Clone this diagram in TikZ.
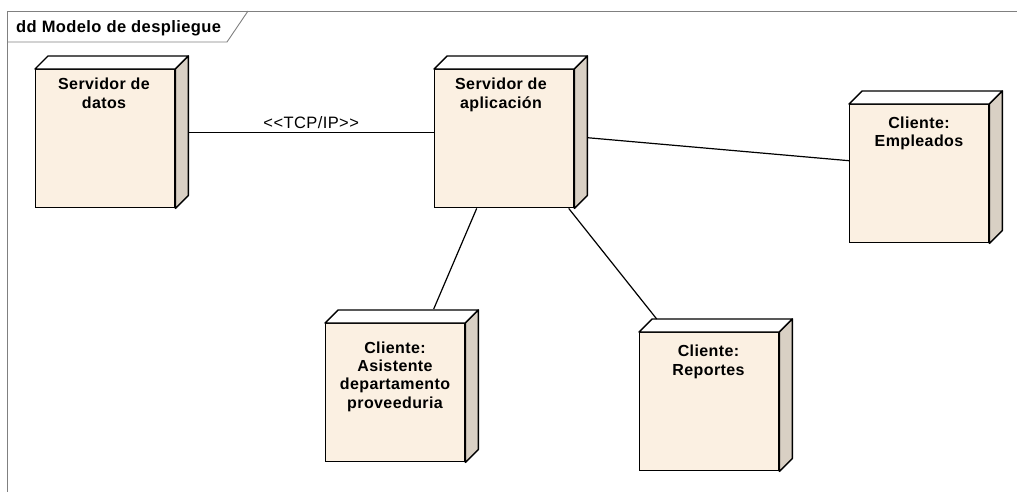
\documentclass[tikz,border=0pt]{standalone}
\usepackage{fontspec}
\setmainfont{Liberation Sans}[LetterSpace=2.5]
\usetikzlibrary{calc}

\definecolor{nodefill}{HTML}{FBF0E2}
\definecolor{nodeside}{HTML}{D9D0C4}
\definecolor{framegray}{HTML}{808080}

\tikzset{
  device/.style={draw=black, line width=1.4pt, fill=nodefill,
    minimum width=139pt, minimum height=138pt, inner sep=0pt,
    anchor=north west},
  devtext/.style={font=\bfseries\fontsize{16}{18.3}\selectfont,
    align=center, inner sep=0pt, anchor=north},
  facetop/.style={draw=black, line width=1.4pt, fill=white, line join=round},
  faceside/.style={draw=black, line width=1.4pt, fill=nodeside, line join=round},
  link/.style={draw=black, line width=1.2pt},
  frameline/.style={draw=framegray, line width=0.9pt},
}

% top and right faces of a 3D device box
\newcommand{\devfaces}[1]{%
  \path[facetop] (#1.north west) -- ++(13,-13)
    -- ($(#1.north east)+(13,-13)$) -- (#1.north east) -- cycle;
  \path[faceside] (#1.north east) -- ++(13,-13)
    -- ($(#1.south east)+(13,-13)$) -- (#1.south east) -- cycle;
}

\begin{document}
\begin{tikzpicture}[x=1pt, y=-1pt]
  \useasboundingbox (0,0) rectangle (1017,491);
  \clip (0,0) rectangle (1017,491);
  \fill[white] (0,0) rectangle (1017,491);

  % diagram frame with its name tab
  \path[frameline] (7,11) rectangle (1040,510);
  \path[frameline] (7,42) -- (227,42) -- (248,11);
  \node[font=\bfseries\fontsize{16.5}{19}\selectfont, anchor=base west, inner sep=0pt]
    (title) at (16,32.3) {dd Modelo de despliegue};

  % device nodes (front faces)
  \node[device] (datos) at (35,69) {};
  \node[device] (app)   at (434,69) {};
  \node[device] (emp)   at (849,104) {};
  \node[device] (asis)  at (325,323) {};
  \node[device] (rep)   at (639,332) {};

  \devfaces{datos}
  \devfaces{app}
  \devfaces{emp}
  \devfaces{asis}
  \devfaces{rep}

  % device names
  \node[devtext] (datos-t) at (104,78)  {Servidor de\\datos};
  \node[devtext] (app-t)   at (501,78)  {Servidor de\\aplicación};
  \node[devtext] (emp-t)   at (919,116.5) {Cliente:\\Empleados};
  \node[devtext] (asis-t)  at (395,341.5) {Cliente:\\Asistente\\departamento\\proveeduria};
  \node[devtext] (rep-t)   at (708.5,345) {Cliente:\\Reportes};

  % communication paths
  \draw[link] ([shift={(13,-6)}]datos.east) -- ([yshift=6pt]app.west)
    node[midway, above=3pt, font=\fontsize{16.5}{19}\selectfont, inner sep=0pt] (tcp) {{<}{<}TCP/IP{>}{>}};
  \draw[link] ([shift={(13,-1)}]app.east) -- ([shift={(0,-13)}]emp.west);
  \draw[link] ([xshift=-27.5pt]app.south) -- ([shift={(38.5,-14)}]asis.north);
  \draw[link] ([xshift=64.5pt]app.south) -- ([shift={(-52.5,-13)}]rep.north);
\end{tikzpicture}
\end{document}
